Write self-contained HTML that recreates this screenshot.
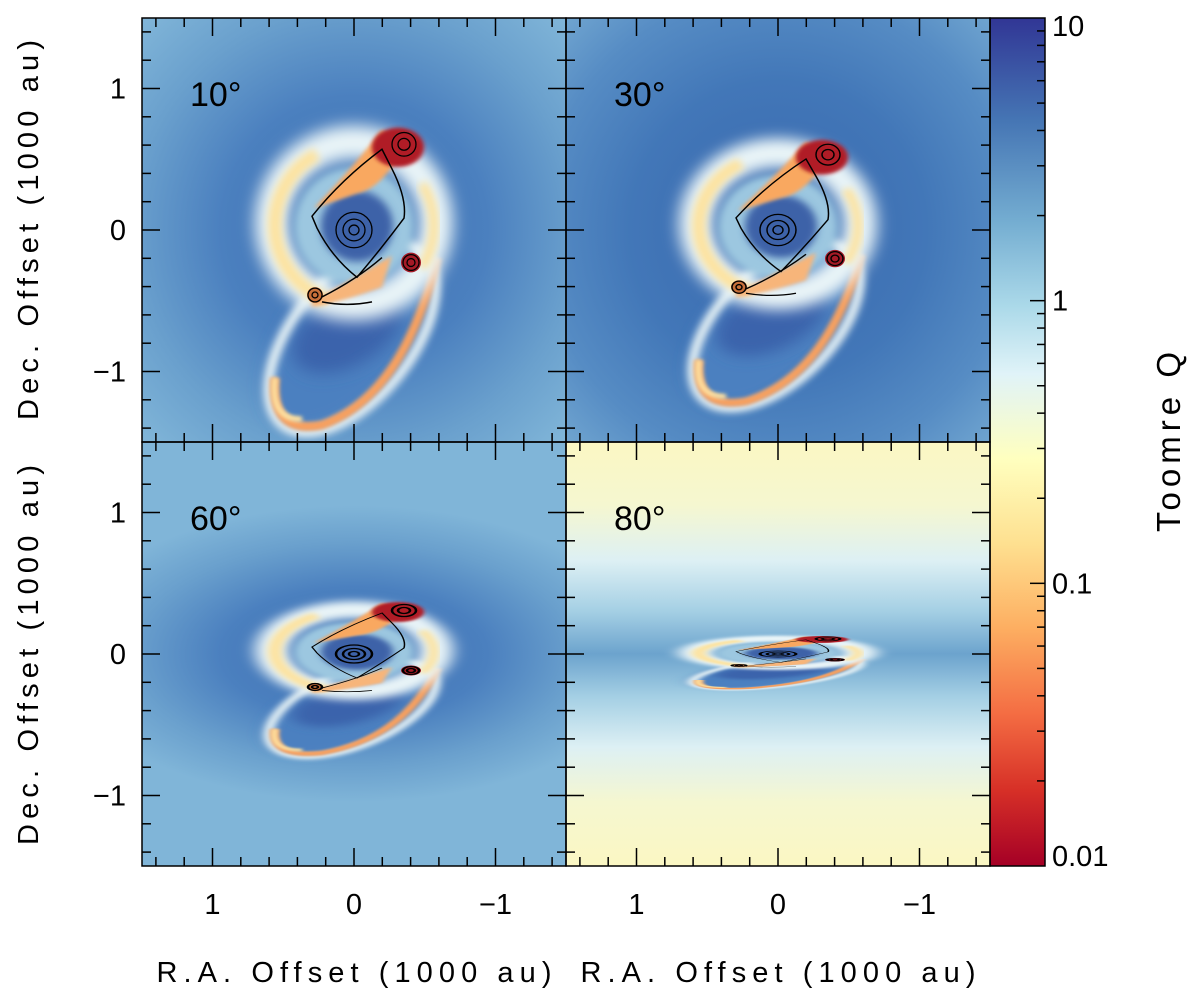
<!DOCTYPE html>
<html><head><meta charset="utf-8"><style>
body{margin:0;background:#fff}
svg text{font-family:"Liberation Sans","DejaVu Sans",sans-serif;fill:#000}
</style></head><body>
<svg id="fig" width="1200" height="1003" viewBox="0 0 1200 1003" xmlns="http://www.w3.org/2000/svg">
<defs>
<filter id="blur4" x="-50%" y="-50%" width="200%" height="200%"><feGaussianBlur stdDeviation="4"/></filter>
<filter id="blur8" x="-50%" y="-50%" width="200%" height="200%"><feGaussianBlur stdDeviation="8"/></filter>
<filter id="blur2" x="-50%" y="-50%" width="200%" height="200%"><feGaussianBlur stdDeviation="2"/></filter>
<radialGradient id="bgA" cx="0.5" cy="0.5" r="0.7">
<stop offset="0" stop-color="#3f6fb2"/><stop offset="0.45" stop-color="#4b80bf"/><stop offset="0.75" stop-color="#6aa0cd"/><stop offset="1" stop-color="#80b5d8"/></radialGradient>
<radialGradient id="bgB" cx="0.5" cy="0.5" r="0.7">
<stop offset="0" stop-color="#3a68ae"/><stop offset="0.5" stop-color="#4277b8"/><stop offset="0.8" stop-color="#568cc4"/><stop offset="1" stop-color="#6ea3cf"/></radialGradient>
<radialGradient id="bgC" cx="0.5" cy="0.5" r="0.7" gradientTransform="translate(0,0.25) scale(1,0.5)">
<stop offset="0" stop-color="#3f6fb2"/><stop offset="0.45" stop-color="#4b80bf"/><stop offset="0.75" stop-color="#6aa0cd"/><stop offset="1" stop-color="#80b5d8"/></radialGradient>
<linearGradient id="bgD" x1="0" y1="0" x2="0" y2="1">
<stop offset="0" stop-color="#fbf7c3"/><stop offset="0.15" stop-color="#f5f7d0"/><stop offset="0.28" stop-color="#ddf0f4"/><stop offset="0.4" stop-color="#a4cfe4"/><stop offset="0.5" stop-color="#6ca3cd"/><stop offset="0.6" stop-color="#a4cfe4"/><stop offset="0.72" stop-color="#ddf0f4"/><stop offset="0.85" stop-color="#f5f7d0"/><stop offset="1" stop-color="#fbf7c3"/></linearGradient>
<linearGradient id="cbar" x1="0" y1="0" x2="0" y2="1">
<stop offset="0" stop-color="#313695"/><stop offset="0.12" stop-color="#4575b4"/><stop offset="0.24" stop-color="#74add1"/><stop offset="0.34" stop-color="#abd9e9"/><stop offset="0.42" stop-color="#e0f3f8"/><stop offset="0.52" stop-color="#ffffbf"/><stop offset="0.62" stop-color="#fee090"/><stop offset="0.72" stop-color="#fdae61"/><stop offset="0.82" stop-color="#f46d43"/><stop offset="0.91" stop-color="#d73027"/><stop offset="1" stop-color="#a50026"/></linearGradient>
<clipPath id="clipP"><rect x="0" y="0" width="424" height="424"/></clipPath>
</defs>
<g id="panels"></g>
<rect x="990" y="18" width="55" height="848" fill="url(#cbar)" stroke="#000" stroke-width="1.5"/>
<g id="axes"></g>
<text x="1180" y="442" font-size="33" text-anchor="middle" textLength="180" transform="rotate(-90 1180 442)">Toomre Q</text>
<text x="354" y="982" font-size="29" text-anchor="middle" textLength="395">R.A. Offset (1000 au)</text>
<text x="778" y="982" font-size="29" text-anchor="middle" textLength="395">R.A. Offset (1000 au)</text>
<text x="38" y="230" font-size="29" text-anchor="middle" textLength="380" transform="rotate(-90 38 230)">Dec. Offset (1000 au)</text>
<text x="38" y="655" font-size="29" text-anchor="middle" textLength="380" transform="rotate(-90 38 655)">Dec. Offset (1000 au)</text>
</svg>
<script>
const inclinations=[10,30,60,80];
const panelLabels=["10°","30°","60°","80°"];
const axisTicks=[1,0,-1];
const cbarTicks=[10,1,0.1,0.01];
const cbarLabels=["10","1","0.1","0.01"];
const NS="http://www.w3.org/2000/svg";
const PX=141.5, PW=424;
const panelOrigins=[[142,18],[566,18],[142,442],[566,442]];
const bgs=["url(#bgA)","url(#bgB)","url(#bgC)","url(#bgD)"];
function mk(tag,attrs,parent){const e=document.createElementNS(NS,tag);for(const k in attrs)e.setAttribute(k,attrs[k]);parent.appendChild(e);return e;}
const xs=v=>PW/2-v*PX;
const ys=v=>PW/2-v*PX;
const panels=document.getElementById('panels');
const axes=document.getElementById('axes');
inclinations.forEach((inc,i)=>{
  const [ox,oy]=panelOrigins[i];
  const g=mk('g',{transform:`translate(${ox},${oy})`,'clip-path':'url(#clipP)'},panels);
  
  
  mk('rect',{x:0,y:0,width:PW,height:PW,fill:bgs[i]},g);
  const c=Math.cos(inc*Math.PI/180);
  const d=mk('g',{transform:`translate(212,212) scale(1,${c}) translate(-212,-212)`},g);
  
  
  mk('ellipse',{cx:205,cy:322,rx:58,ry:108,fill:'#4c80c0',transform:'rotate(38 205 322)',filter:'url(#blur8)'},d);
  mk('ellipse',{cx:205,cy:315,rx:35,ry:60,fill:'#3a64ac',transform:'rotate(60 205 315)',filter:'url(#blur8)'},d);
  mk('ellipse',{cx:210,cy:322,rx:60,ry:112,fill:'none',stroke:'#e9f4f6',"stroke-width":10,transform:'rotate(38 210 322)',filter:'url(#blur4)'},d);
  mk('path',{d:'M 133 362 Q 128 420 180 410 Q 262 380 295 240',fill:'none',stroke:'#f6a060',"stroke-width":9,filter:'url(#blur2)'},d);
  mk('path',{d:'M 133 362 Q 128 405 160 404',fill:'none',stroke:'#fde0a0',"stroke-width":6,filter:'url(#blur2)'},d);
  mk('circle',{cx:212,cy:205,r:82,fill:'none',stroke:'#eaf5f8',"stroke-width":34,filter:'url(#blur8)'},d);
  mk('path',{d:'M 175 135 A 82 82 0 0 0 185 283',fill:'none',stroke:'#fde3a0',"stroke-width":14,filter:'url(#blur4)'},d);
  mk('path',{d:'M 280 165 A 82 82 0 0 1 280 250',fill:'none',stroke:'#fde3a0',"stroke-width":10,filter:'url(#blur4)'},d);
  mk('circle',{cx:212,cy:208,r:60,fill:'#9cc7e0',filter:'url(#blur4)'},d);
  mk('circle',{cx:215,cy:208,r:36,fill:'#3d62a8',filter:'url(#blur4)'},d);
  mk('path',{d:'M 172 190 Q 210 150 240 110 L 262 128 Q 240 170 215 175 Z',fill:'#f9a860',filter:'url(#blur2)'},d);
  mk('path',{d:'M 170 285 Q 210 262 250 238 L 240 270 Q 200 285 170 290 Z',fill:'#f7b57a',filter:'url(#blur2)'},d);
  mk('ellipse',{cx:256,cy:128,rx:26,ry:20,fill:'#b01b26',filter:'url(#blur2)'},d);
  mk('circle',{cx:269,cy:245,r:10,fill:'#a51a26'},d);
  mk('circle',{cx:173,cy:278,r:8,fill:'#c8703a'},d);
  const cs=[[212,212,18],[212,212,11],[212,212,5],[262,125,12],[262,125,6],[269,245,8],[269,245,4],[173,278,7],[173,278,3]];
  cs.forEach(q=>{mk('circle',{cx:q[0],cy:q[1],r:q[2],fill:'none',stroke:'#000',"stroke-width":1.6/Math.max(c,0.4)*0.8},d);});
  mk('path',{d:'M 170 198 Q 200 160 240 130 L 250 150 Q 265 180 262 200 Q 240 230 215 260 Q 190 240 175 210 Z',fill:'none',stroke:'#000',"stroke-width":1.5},d);
  mk('path',{d:'M 180 280 Q 215 262 240 240 M 180 285 Q 205 290 230 285',fill:'none',stroke:'#000',"stroke-width":1.5},d);
  const t=mk('text',{x:ox+48,y:oy+88,'font-size':34},axes);
  t.textContent=panelLabels[i];
  
  
  mk('rect',{x:ox,y:oy,width:PW,height:PW,fill:'none',stroke:'#000','stroke-width':1.5},axes);
  for(let v=-1.4;v<=1.41;v+=0.2){
    const vv=Math.round(v*10)/10;
    const major=Math.abs(vv-Math.round(vv))<1e-6;
    const L=major?18:9;
    const x=ox+xs(vv), y=oy+ys(vv);
    mk('line',{x1:x,y1:oy+PW,x2:x,y2:oy+PW-L,stroke:'#000','stroke-width':1.5},axes);
    mk('line',{x1:x,y1:oy,x2:x,y2:oy+L,stroke:'#000','stroke-width':1.5},axes);
    mk('line',{x1:ox,y1:y,x2:ox+L,y2:y,stroke:'#000','stroke-width':1.5},axes);
    mk('line',{x1:ox+PW,y1:y,x2:ox+PW-L,y2:y,stroke:'#000','stroke-width':1.5},axes);
  }
});
axisTicks.forEach(v=>{
  const lab=v<0?'\u22121':String(v);
  [[142,442],[566,442]].forEach(([ox,oy])=>{
    const t=mk('text',{x:ox+xs(v),y:oy+PW+48,'font-size':29,'text-anchor':'middle'},axes);
    t.textContent=lab;
    
    
  });
  [18,442].forEach(oy=>{
    const t=mk('text',{x:126,y:oy+ys(v)+10,'font-size':29,'text-anchor':'end'},axes);
    t.textContent=lab;
    
    
  });
});
const cbY=v=>18+(1-Math.log10(v))/3*848;
cbarTicks.forEach((v,i)=>{
  const y=cbY(v);
  const t=mk('text',{x:1052,y:y+(i==0?18:i==3?0:10),'font-size':29},axes);
  t.textContent=cbarLabels[i];
  
  
  if(i>0&&i<3) mk('line',{x1:1045,y1:y,x2:1030,y2:y,stroke:'#000','stroke-width':1.5},axes);
  if(i<3) for(let m=2;m<=9;m++){const yy=cbY(v/10*m);mk('line',{x1:1045,y1:yy,x2:1037,y2:yy,stroke:'#000','stroke-width':1.5},axes);}
});
</script>
</body></html>
